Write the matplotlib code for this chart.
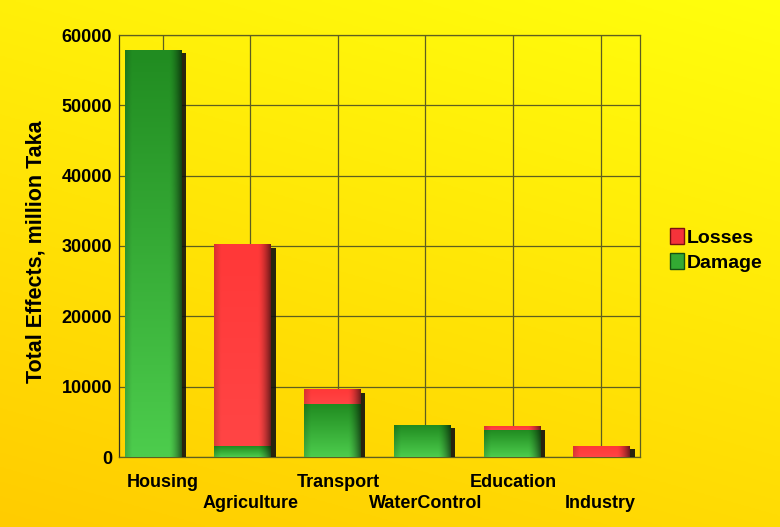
import numpy as np
import matplotlib
matplotlib.use("Agg")
import matplotlib.pyplot as plt
import matplotlib.patheffects as pe
from matplotlib.patches import Patch

categories = ["Housing", "Agriculture", "Transport", "WaterControl", "Education", "Industry"]
damage = [57800, 1500, 7500, 4500, 3800, 0]
losses = [0, 28600, 2000, 0, 500, 1500]
yticks = [0, 10000, 20000, 30000, 40000, 50000, 60000]

FONT = "Liberation Sans"
fig = plt.figure(figsize=(7.8, 5.27), dpi=100)

# yellow gradient background (bright at top-right, orange-yellow at bottom-left)
bg = fig.add_axes([0, 0, 1, 1], zorder=-10)
yy, xx = np.mgrid[0:1:200j, 0:1:300j]
t = np.clip(0.7 * yy + 0.3 * (1 - xx), 0, 1)
c_top = np.array([1.0, 1.0, 0.05])
c_bot = np.array([1.0, 0.80, 0.0])
img = c_top[None, None, :] * (1 - t[..., None]) + c_bot[None, None, :] * t[..., None]
bg.imshow(img, aspect="auto", extent=[0, 1, 0, 1], origin="upper")
bg.axis("off")

ax = fig.add_axes([119 / 780, 1 - 457 / 527, (640 - 119) / 780, (457 - 35) / 527])
ax.set_facecolor("none")
x = np.arange(len(categories))
pos = x - 0.11 + 0.025 * x  # slight perspective shift of the front faces
width = 0.65
green = "#33aa33"
red = "#f5333a"
shadow = [pe.SimplePatchShadow(offset=(3, -2), shadow_rgbFace="#101010", alpha=0.9), pe.Normal()]

b1 = ax.bar(pos, damage, width, color=green, edgecolor="none",
            zorder=3, path_effects=shadow)
b2 = ax.bar(pos, losses, width, bottom=damage, color=red, edgecolor="none",
            zorder=3, path_effects=shadow)


def shade(container, top_rgb, bot_rgb):
    # cylinder-like shading drawn inside each bar patch
    hx = np.linspace(0, 1, 60)
    prof = 1.0 - 0.55 * np.clip((hx - 0.78) / 0.22, 0, 1) ** 1.5 - 0.15 * np.clip((0.12 - hx) / 0.12, 0, 1)
    for p in container.patches:
        h = p.get_height()
        if h <= 0:
            continue
        x0, y0 = p.get_xy()
        w = p.get_width()
        vy = np.linspace(0, 1, 40)[:, None, None]  # 0 top -> 1 bottom
        col = np.array(top_rgb)[None, None, :] * (1 - vy) + np.array(bot_rgb)[None, None, :] * vy
        im = np.clip(col * prof[None, :, None], 0, 1)
        ax.imshow(im, extent=[x0, x0 + w, y0, y0 + h], aspect="auto", origin="upper",
                  zorder=3.2, clip_path=p, interpolation="bilinear")


shade(b1, (0.13, 0.55, 0.13), (0.30, 0.80, 0.30))
shade(b2, (1.0, 0.22, 0.22), (1.0, 0.27, 0.27))

ax.set_xlim(-0.5, 5.45)
ax.set_ylim(0, 60000)
ax.set_aspect("auto")
ax.set_yticks(yticks)
ax.set_yticklabels([str(v) for v in yticks], fontsize=13, fontweight="bold", family=FONT)
ax.set_xticks(x)
ax.set_xticklabels(categories, fontsize=13, fontweight="bold", family=FONT)
for i, tick in enumerate(ax.xaxis.get_major_ticks()):
    tick.set_pad(12 if i % 2 == 0 else 27)
ax.tick_params(axis="both", length=0)
ax.tick_params(axis="y", pad=5)
ax.grid(True, color="#5e5e20", linewidth=0.9, zorder=0)
ax.set_axisbelow(True)
for s in ax.spines.values():
    s.set_color("#5e5e20")
    s.set_linewidth(0.9)
ax.spines["left"].set_color("#333320")

fig.text(36 / 780, 1 - 252 / 527, "Total Effects, million Taka", rotation=90,
         ha="center", va="center", fontsize=15.5, fontweight="bold", family=FONT)

handles = [Patch(facecolor=red, edgecolor="#7a1010"), Patch(facecolor=green, edgecolor="#145214")]
leg = fig.legend(handles, ["Losses", "Damage"], loc="center left",
                 bbox_to_anchor=(662 / 780, 1 - 250 / 527), frameon=False,
                 prop={"family": FONT, "weight": "bold", "size": 14},
                 handlelength=0.75, handleheight=0.9, handletextpad=0.1, labelspacing=0.3,
                 borderaxespad=0)

fig.savefig("out.png", dpi=100)
